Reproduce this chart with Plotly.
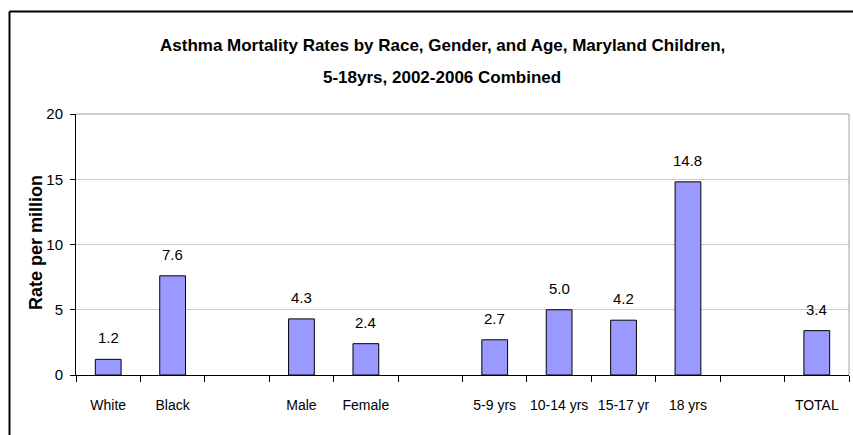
import plotly.graph_objects as go

categories = ["White", "Black", " ", "Male", "Female", "  ", "5-9 yrs", "10-14 yrs", "15-17 yr", "18 yrs", "   ", "TOTAL"]
rates = [1.2, 7.6, None, 4.3, 2.4, None, 2.7, 5.0, 4.2, 14.8, None, 3.4]
y_ticks = [0, 5, 10, 15, 20]
title_line1 = "Asthma Mortality Rates by Race, Gender, and Age, Maryland Children,"
title_line2 = "5-18yrs, 2002-2006 Combined"
y_title = "Rate per million"

FONT = "Liberation Sans, Arial, sans-serif"

plot_l, plot_r = 76, 849
plot_top, plot_bot = 114, 375
pw = plot_r - plot_l
ph = plot_bot - plot_top

def px(pix):
    return (pix - plot_l) / pw

def py(pix):
    return (plot_bot - pix) / ph

fig = go.Figure()
fig.add_trace(go.Bar(
    x=categories, y=rates,
    marker=dict(color="#9999FF", line=dict(color="#000000", width=1)),
    width=0.4,
    hoverinfo="skip",
))

annotations = []
for c, v in zip(categories, rates):
    if v is None:
        continue
    annotations.append(dict(x=c, y=v, xref="x", yref="y", text=f"{v:.1f}",
                            showarrow=False, yanchor="bottom", yshift=11,
                            font=dict(family=FONT, size=15, color="#000")))

annotations += [
    dict(x=px(442), y=py(45), xref="paper", yref="paper", text="<b>" + title_line1 + "</b>",
         showarrow=False, yanchor="middle", xanchor="center",
         font=dict(family=FONT, size=17, color="#000")),
    dict(x=px(442), y=py(78), xref="paper", yref="paper", text="<b>" + title_line2 + "</b>",
         showarrow=False, yanchor="middle", xanchor="center",
         font=dict(family=FONT, size=17, color="#000")),
    dict(x=px(36), y=py(243), xref="paper", yref="paper", text="<b>" + y_title + "</b>",
         showarrow=False, yanchor="middle", xanchor="center", textangle=-90,
         font=dict(family=FONT, size=18, color="#000")),
]

fig.update_layout(
    width=853, height=435,
    margin=dict(l=plot_l, r=853 - plot_r, t=plot_top, b=435 - plot_bot, autoexpand=False),
    paper_bgcolor="white", plot_bgcolor="white",
    showlegend=False,
    bargap=0.6,
    annotations=annotations,
    xaxis=dict(
        type="category", tickson="boundaries", ticks="outside", ticklen=6,
        tickcolor="#000", showline=True, linecolor="#000", linewidth=1,
        showgrid=False, tickangle=0, automargin=False,
        tickfont=dict(family=FONT, size=14, color="#000"),
        ticklabelstandoff=17,
    ),
    yaxis=dict(
        range=[0, 20], tickvals=y_ticks, ticks="outside", ticklen=5,
        tickcolor="#000", showline=True, linecolor="#000", linewidth=1,
        showgrid=True, gridcolor="#cccccc", gridwidth=1, zeroline=False,
        automargin=False, ticklabelstandoff=4,
        tickfont=dict(family=FONT, size=15, color="#000"),
    ),
    shapes=[
        dict(type="line", xref="paper", yref="paper", x0=0, x1=1, y0=1, y1=1,
             line=dict(color="#a0a0a0", width=1)),
        dict(type="line", xref="paper", yref="paper", x0=1, x1=1, y0=0, y1=1,
             line=dict(color="#a0a0a0", width=1)),
        dict(type="line", xref="paper", yref="paper", x0=px(9.5), x1=px(860), y0=py(11.5), y1=py(11.5),
             line=dict(color="#000", width=2)),
        dict(type="line", xref="paper", yref="paper", x0=px(9.5), x1=px(9.5), y0=py(11.5), y1=py(445),
             line=dict(color="#000", width=2)),
    ],
)

fig.write_html("out.html", config={"displayModeBar": False},
               post_script="document.body.style.margin='0';document.body.style.overflow='hidden';")
